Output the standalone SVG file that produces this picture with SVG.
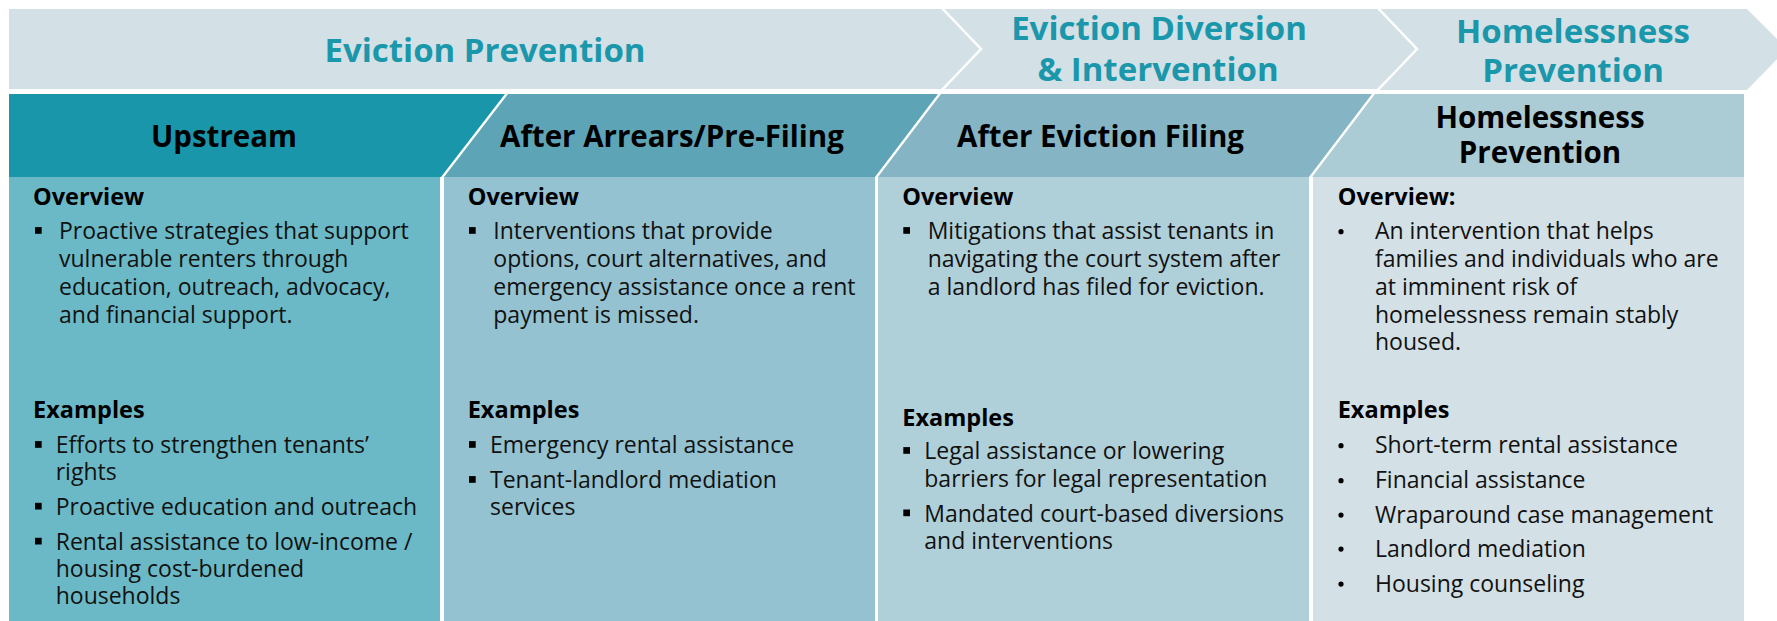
<svg xmlns="http://www.w3.org/2000/svg" width="1777" height="621" viewBox="0 0 1777 621">
<style>
.band{fill:#d3e0e6}
.sep{fill:none;stroke:#ffffff;stroke-width:2.5}
.ttl{font-family:"Open Sans","Noto Sans","Liberation Sans",sans-serif;font-weight:700;font-size:33px;fill:#1a97aa;text-anchor:middle}
.hdr{font-family:"Open Sans","Noto Sans","Liberation Sans",sans-serif;font-weight:700;font-size:29.5px;fill:#000000;text-anchor:middle}
.sub{font-family:"Open Sans","Noto Sans","Liberation Sans",sans-serif;font-weight:700;font-size:23.5px;fill:#000000}
.txt{font-family:"Open Sans","Noto Sans","Liberation Sans",sans-serif;font-weight:400;font-size:23px;fill:#111111}
.sq{fill:#000000}
</style>
<defs>
<rect id="sqb" x="0" y="-3.4" width="6.7" height="6.7"/>
<circle id="dot" cx="0" cy="0" r="2.6"/>
</defs>
<rect width="1777" height="621" fill="#ffffff"/>

<g id="banner-eviction-prevention">
<polygon class="band" points="9,9 941,9 981,49 941,89 9,89"/>
<text class="ttl" x="485" y="61.7">Eviction Prevention</text>
</g>
<g id="banner-eviction-diversion">
<polygon class="band" points="941,9 1377,9 1417,49 1377,89 941,89 981,49"/>
<text class="ttl" x="1159" y="40">Eviction Diversion</text>
<text class="ttl" x="1158" y="81">&amp; Intervention</text>
</g>
<g id="banner-homelessness-prevention">
<polygon class="band" points="1377,9 1747,9 1787,49 1747,90 1377,90 1417,49"/>
<text class="ttl" x="1573" y="43.3">Homelessness</text>
<text class="ttl" x="1573" y="81.7">Prevention</text>
</g>

<g id="separators">
<polyline class="sep" points="941,7 981,49 941,91"/>
<polyline class="sep" points="1377,7 1417,49 1377,91"/>
</g>

<g id="col-upstream">
<polygon fill="#1a96aa" points="9,94 505,94 441,177 9,177"/>
<rect x="9" y="177" width="431" height="444" fill="#6bb9c6"/>
<text class="hdr" x="224" y="146.7">Upstream</text>
<text class="sub" x="33" y="205">Overview</text>
<use href="#sqb" class="sq" x="35" y="230.5"/>
<text class="txt" x="59" y="239.3">Proactive strategies that support</text>
<text class="txt" x="59" y="266.7">vulnerable renters through</text>
<text class="txt" x="59" y="295">education, outreach, advocacy,</text>
<text class="txt" x="59" y="322.7">and financial support.</text>
<text class="sub" x="33" y="418.3">Examples</text>
<use href="#sqb" class="sq" x="35" y="444.5"/>
<text class="txt" x="55.7" y="453.3">Efforts to strengthen tenants’</text>
<text class="txt" x="55.7" y="480">rights</text>
<use href="#sqb" class="sq" x="35" y="506.2"/>
<text class="txt" x="55.7" y="515">Proactive education and outreach</text>
<use href="#sqb" class="sq" x="35" y="541.2"/>
<text class="txt" x="55.7" y="550">Rental assistance to low-income /</text>
<text class="txt" x="55.7" y="577.3">housing cost-burdened</text>
<text class="txt" x="55.7" y="604.3">households</text>
</g>

<g id="col-after-arrears">
<polygon fill="#5da5b6" points="508,94 938,94 875,177 444,177"/>
<rect x="444" y="177" width="431" height="444" fill="#94c2d0"/>
<text class="hdr" x="672" y="146.7">After Arrears/Pre-Filing</text>
<text class="sub" x="467.7" y="205">Overview</text>
<use href="#sqb" class="sq" x="469" y="230.5"/>
<text class="txt" x="493.3" y="239.3">Interventions that provide</text>
<text class="txt" x="493.3" y="266.7">options, court alternatives, and</text>
<text class="txt" x="493.3" y="295">emergency assistance once a rent</text>
<text class="txt" x="493.3" y="322.7">payment is missed.</text>
<text class="sub" x="467.7" y="418.3">Examples</text>
<use href="#sqb" class="sq" x="469" y="444.5"/>
<text class="txt" x="490" y="453.3">Emergency rental assistance</text>
<use href="#sqb" class="sq" x="469" y="479.5"/>
<text class="txt" x="490" y="488.3">Tenant-landlord mediation</text>
<text class="txt" x="490" y="515">services</text>
</g>

<g id="col-after-filing">
<polygon fill="#85b5c4" points="941,94 1372,94 1309,177 878,177"/>
<rect x="878" y="177" width="431" height="444" fill="#afcfd9"/>
<text class="hdr" x="1100.5" y="146.7">After Eviction Filing</text>
<text class="sub" x="902.3" y="205">Overview</text>
<use href="#sqb" class="sq" x="903.3" y="230.5"/>
<text class="txt" x="927.7" y="239.3">Mitigations that assist tenants in</text>
<text class="txt" x="927.7" y="266.7">navigating the court system after</text>
<text class="txt" x="927.7" y="295">a landlord has filed for eviction.</text>
<text class="sub" x="902.3" y="426">Examples</text>
<use href="#sqb" class="sq" x="903.3" y="450.5"/>
<text class="txt" x="924.3" y="459.3">Legal assistance or lowering</text>
<text class="txt" x="924.3" y="486.7">barriers for legal representation</text>
<use href="#sqb" class="sq" x="903.3" y="512.9"/>
<text class="txt" x="924.3" y="521.7">Mandated court-based diversions</text>
<text class="txt" x="924.3" y="549.3">and interventions</text>
</g>

<g id="col-homelessness-prevention">
<polygon fill="#abcbd5" points="1375,94 1744,94 1744,177 1312,177"/>
<rect x="1313" y="177" width="431" height="444" fill="#d3e0e6"/>
<text class="hdr" x="1540" y="128.3">Homelessness</text>
<text class="hdr" x="1540" y="163.3">Prevention</text>
<text class="sub" x="1337.7" y="205">Overview:</text>
<use href="#dot" class="sq" x="1341" y="231.7"/>
<text class="txt" x="1375" y="239.3">An intervention that helps</text>
<text class="txt" x="1375" y="266.7">families and individuals who are</text>
<text class="txt" x="1375" y="295">at imminent risk of</text>
<text class="txt" x="1375" y="322.7">homelessness remain stably</text>
<text class="txt" x="1375" y="350">housed.</text>
<text class="sub" x="1337.7" y="418.3">Examples</text>
<use href="#dot" class="sq" x="1341" y="445.7"/>
<text class="txt" x="1375" y="453.3">Short-term rental assistance</text>
<use href="#dot" class="sq" x="1341" y="480.7"/>
<text class="txt" x="1375" y="488.3">Financial assistance</text>
<use href="#dot" class="sq" x="1341" y="515.1"/>
<text class="txt" x="1375" y="522.7">Wraparound case management</text>
<use href="#dot" class="sq" x="1341" y="549.1"/>
<text class="txt" x="1375" y="556.7">Landlord mediation</text>
<use href="#dot" class="sq" x="1341" y="584.1"/>
<text class="txt" x="1375" y="591.7">Housing counseling</text>
</g>
</svg>
